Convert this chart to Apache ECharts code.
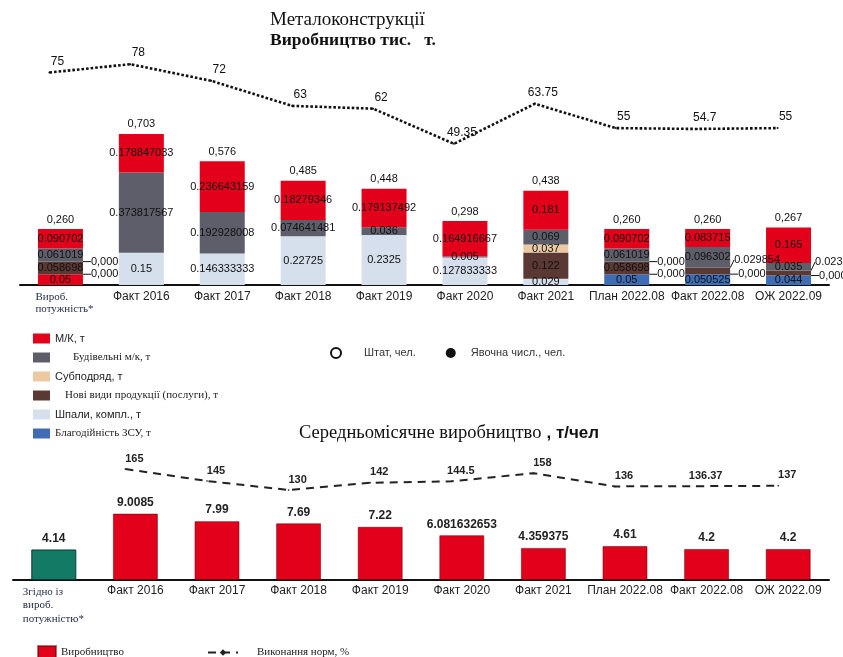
<!DOCTYPE html>
<html>
<head>
<meta charset="utf-8">
<script src="https://cdn.jsdelivr.net/npm/echarts@6/dist/echarts.min.js"></script>
<style>
  html, body { margin: 0; padding: 0; background: #fff; }
  #chart { width: 843px; height: 657px; }
</style>
</head>
<body>
<div id="chart"></div>
<script>
  // категорії
  const categories = ['Вироб.\nпотужність*', 'Факт 2016', 'Факт 2017', 'Факт 2018', 'Факт 2019', 'Факт 2020', 'Факт 2021', 'План 2022.08', 'Факт 2022.08', 'ОЖ 2022.09']
  const monthlyCategories = ['Згідно із\nвироб.\nпотужністю*', 'Факт 2016', 'Факт 2017', 'Факт 2018', 'Факт 2019', 'Факт 2020', 'Факт 2021', 'План 2022.08', 'Факт 2022.08', 'ОЖ 2022.09']

  // виробництво, тис. т (знизу вгору)
  const zsu = [0.05, null, null, null, null, null, null, 0.05, 0.050525, 0.044]
  const shpaly = [0, 0.15, 0.146333333, 0.22725, 0.2325, 0.127833333, 0.029, 0, 0, 0]
  const noviVydy = [0.058698, null, null, null, null, null, 0.122, 0.058698, 0.029854, 0.023]
  const subpidryad = [0, null, null, null, null, null, 0.037, 0, null, null]
  const budivelni = [0.061019, 0.373817567, 0.192928008, 0.074641481, 0.036, 0.005, 0.069, 0.061019, 0.096302, 0.035]
  const mk = [0.090702, 0.178847033, 0.236643159, 0.18279346, 0.179137492, 0.164916667, 0.181, 0.090702, 0.083715, 0.165]

  // явочна чисельність, чел.
  const yavochna = [75, 78, 72, 63, 62, 49.35, 63.75, 55, 54.7, 55]

  // середньомісячне виробництво, т/чел та виконання норм, %
  const vyrobnytstvo = [4.14, 9.0085, 7.99, 7.69, 7.22, 6.081632653, 4.359375, 4.61, 4.2, 4.2]
  const vykonannya = [null, 165, 145, 130, 142, 144.5, 158, 136, 136.37, 137]

  const RED = '#e3001b'
  const GREY = '#5e5e6a'
  const TAN = '#ebcaa2'
  const BROWN = '#5a3833'
  const LIGHT = '#d6e0ec'
  const BLUE = '#3e6db3'
  const TEAL = '#137a66'
  const SANS = 'Liberation Sans'
  const SERIF = 'Liberation Serif'

  const totals = categories.map((_, i) =>
    [zsu, shpaly, noviVydy, subpidryad, budivelni, mk].reduce((s, arr) => s + (arr[i] || 0), 0)
  )

  // мітки, винесені праворуч від стовпця
  const sideIdx = new Set([8, 9])

  const stackSeries = (name, values, color, side) => ({
    name,
    type: 'bar',
    stack: 'mk',
    xAxisIndex: 0,
    yAxisIndex: 0,
    barWidth: 45,
    itemStyle: { color },
    label: {
      show: true,
      position: 'inside',
      fontFamily: SANS,
      fontSize: 11,
      color: '#111',
      formatter: (p) => (p.value === 0 ? '0,000' : String(p.value)),
    },
    labelLine: { lineStyle: { color: '#111', width: 1 } },
    labelLayout: (p) => {
      const v = values[p.dataIndex]
      if (v === 0) return { dx: 6 }
      if (side && sideIdx.has(p.dataIndex)) return { dx: 4, dy: -11 }
      return {}
    },
    data: values.map((v, i) => {
      if (v === 0) return { value: v, label: { position: 'right', distance: 2 }, labelLine: { show: true } }
      if (side && sideIdx.has(i)) return { value: v, label: { position: 'right', distance: 0 }, labelLine: { show: true } }
      return v
    }),
  })

  const chart = echarts.init(document.getElementById('chart'))

  chart.setOption({
    animation: false,
    backgroundColor: '#fff',
    title: [
      {
        text: 'Металоконструкції',
        left: 265,
        top: 6,
        textStyle: { fontFamily: SERIF, fontSize: 19, fontWeight: 'normal', color: '#111' },
      },
      {
        text: 'Виробництво тис.   т.',
        left: 265,
        top: 26,
        textStyle: { fontFamily: SERIF, fontSize: 17.5, fontWeight: 'bold', color: '#111' },
      },
      {
        text: '{a|Середньомісячне виробництво} {b|, т/чел}',
        left: 294,
        top: 419,
        textStyle: {
          fontWeight: 'normal',
          rich: {
            a: { fontFamily: SERIF, fontSize: 18.5, fontWeight: 'normal', color: '#111' },
            b: { fontFamily: SANS, fontSize: 17, fontWeight: 'bold', color: '#111' },
          },
        },
      },
    ],
    legend: [
      {
        orient: 'vertical',
        left: 28,
        top: 327,
        itemWidth: 17,
        itemHeight: 10,
        itemGap: 6,
        icon: 'rect',
        textStyle: { fontFamily: SANS, fontSize: 11, color: '#222', lineHeight: 13 },
        data: [
          { name: 'М/К, т' },
          { name: 'Будівельні м/к, т', textStyle: { fontFamily: SERIF, padding: [0, 0, 0, 18] } },
          { name: 'Субподряд, т' },
          { name: 'Нові види продукції (послуги), т', textStyle: { fontFamily: SERIF, padding: [0, 0, 0, 10] } },
          { name: 'Шпали, компл., т' },
          { name: 'Благодійність ЗСУ, т', textStyle: { fontFamily: SERIF } },
        ],
      },
      {
        left: 325,
        top: 342,
        itemWidth: 10,
        itemHeight: 10,
        itemGap: 30,
        textStyle: { fontFamily: SANS, fontSize: 11, color: '#333' },
        data: [
          {
            name: 'Штат, чел.',
            icon: 'circle',
            itemStyle: { color: '#fff', borderColor: '#111', borderWidth: 2 },
            textStyle: { padding: [0, 0, 0, 18] },
          },
          { name: 'Явочна числ., чел.', icon: 'circle', itemStyle: { color: '#111' }, textStyle: { padding: [0, 0, 0, 10] } },
        ],
      },
      {
        left: 32,
        top: 640,
        itemWidth: 18,
        itemHeight: 12,
        icon: 'rect',
        textStyle: { fontFamily: SERIF, fontSize: 11, color: '#222' },
        data: ['Виробництво'],
      },
      {
        left: 202,
        top: 642,
        itemWidth: 30,
        itemHeight: 8,
        textStyle: { fontFamily: SERIF, fontSize: 11, color: '#222', padding: [0, 0, 0, 14] },
        data: ['Виконання норм, %'],
      },
    ],
    grid: [
      { left: 20, right: 14, top: 50, bottom: 372, outerBoundsMode: 'none' },
      { left: 9, right: 25, top: 50, bottom: 372, outerBoundsMode: 'none' },
      { left: 13, right: 14, top: 440, bottom: 77, outerBoundsMode: 'none' },
      { left: 3, right: 24, top: 448, bottom: 89, outerBoundsMode: 'none' },
    ],
    xAxis: [
      {
        gridIndex: 0,
        type: 'category',
        data: categories,
        axisTick: { show: false },
        axisLine: { lineStyle: { color: '#111', width: 2 } },
        axisLabel: {
          interval: 0,
          margin: 6,
          fontFamily: SANS,
          fontSize: 12,
          color: '#222',
          formatter: (v, i) => (i === 0 ? v.split('\n').map((s) => `{s|${s}}`).join('\n') : v),
          rich: { s: { width: 50, align: 'left', fontFamily: SERIF, fontSize: 11, lineHeight: 12, color: '#1f2a44' } },
        },
      },
      { gridIndex: 1, type: 'category', data: categories, show: false },
      {
        gridIndex: 2,
        type: 'category',
        data: monthlyCategories,
        axisTick: { show: false },
        axisLine: { lineStyle: { color: '#111', width: 2 } },
        axisLabel: {
          interval: 0,
          margin: 5,
          fontFamily: SANS,
          fontSize: 12,
          color: '#222',
          formatter: (v, i) => (i === 0 ? v.split('\n').map((s) => `{s|${s}}`).join('\n') : v),
          rich: { s: { width: 62, align: 'left', fontFamily: SERIF, fontSize: 11, lineHeight: 13.5, color: '#1f2a44' } },
        },
      },
      { gridIndex: 3, type: 'category', data: monthlyCategories, show: false },
    ],
    yAxis: [
      { gridIndex: 0, type: 'value', min: 0, max: 1.093, show: false },
      { gridIndex: 1, type: 'value', min: -1.44, max: 83.1, show: false },
      { gridIndex: 2, type: 'value', min: 0, max: 19, show: false },
      { gridIndex: 3, type: 'value', min: 0, max: 200, show: false },
    ],
    series: [
      {
        ...stackSeries('Благодійність ЗСУ, т', zsu, BLUE, false),
        data: zsu.map((v, i) => (i === 0 ? { value: v, itemStyle: { color: RED } } : v)),
      },
      stackSeries('Шпали, компл., т', shpaly, LIGHT, false),
      stackSeries('Нові види продукції (послуги), т', noviVydy, BROWN, true),
      stackSeries('Субподряд, т', subpidryad, TAN, false),
      stackSeries('Будівельні м/к, т', budivelni, GREY, false),
      stackSeries('М/К, т', mk, RED, false),
      {
        name: 'total',
        type: 'bar',
        stack: 'mk',
        xAxisIndex: 0,
        yAxisIndex: 0,
        barWidth: 45,
        itemStyle: { color: 'transparent' },
        label: {
          show: true,
          position: 'top',
          distance: 4,
          fontFamily: SANS,
          fontSize: 11,
          color: '#111',
          formatter: (p) => totals[p.dataIndex].toFixed(3).replace('.', ','),
        },
        data: categories.map(() => 0),
      },
      {
        name: 'Штат, чел.',
        type: 'line',
        xAxisIndex: 1,
        yAxisIndex: 1,
        symbol: 'emptyCircle',
        data: [],
      },
      {
        name: 'Явочна числ., чел.',
        type: 'line',
        xAxisIndex: 1,
        yAxisIndex: 1,
        showSymbol: true,
        symbol: 'circle',
        symbolSize: 2,
        itemStyle: { color: '#111' },
        lineStyle: { color: '#111', width: 2.6, type: [2.6, 2] },
        label: {
          show: true,
          position: 'top',
          distance: 4,
          offset: [8, 0],
          fontFamily: SANS,
          fontSize: 12,
          color: '#111',
        },
        data: yavochna,
      },
      {
        name: 'Виробництво',
        type: 'bar',
        xAxisIndex: 2,
        yAxisIndex: 2,
        barWidth: 45,
        itemStyle: { color: RED, borderColor: 'rgba(110,0,10,0.55)', borderWidth: 1 },
        label: {
          show: true,
          position: 'top',
          distance: 5,
          fontFamily: SANS,
          fontSize: 12,
          fontWeight: 'bold',
          color: '#222',
        },
        data: vyrobnytstvo.map((v, i) =>
          i === 0 ? { value: v, itemStyle: { color: TEAL, borderColor: '#0a3b33' } } : v
        ),
      },
      {
        name: 'Виконання норм, %',
        type: 'line',
        xAxisIndex: 3,
        yAxisIndex: 3,
        showSymbol: true,
        symbol: 'diamond',
        symbolSize: 2,
        itemStyle: { color: '#222' },
        lineStyle: { color: '#222', width: 2, type: [8, 6] },
        label: {
          show: true,
          position: 'top',
          distance: 4,
          offset: [9, 0],
          fontFamily: SANS,
          fontSize: 11,
          fontWeight: 'bold',
          color: '#222',
        },
        data: vykonannya,
      },
    ],
  })
</script>
</body>
</html>
